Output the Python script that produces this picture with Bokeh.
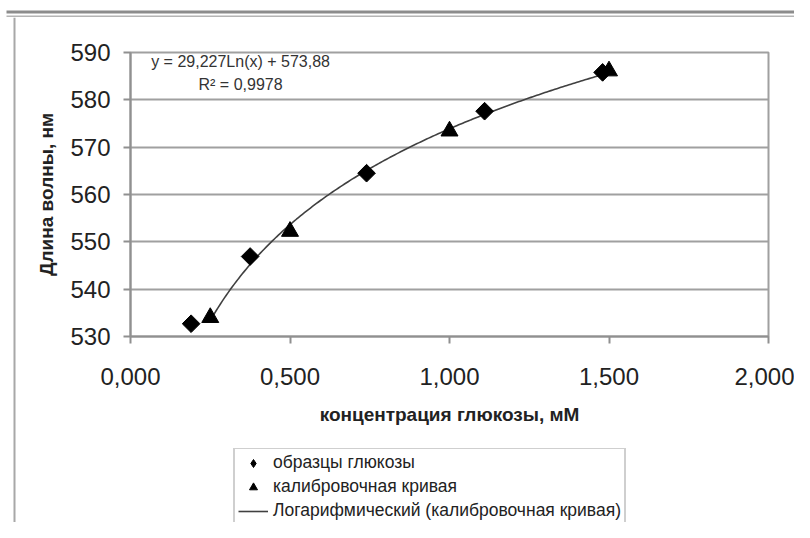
import numpy as np
from bokeh.plotting import figure
from bokeh.layouts import column, row
from bokeh.models import Legend, LegendItem, Label, FixedTicker, BoxAnnotation
from bokeh.embed import file_html
from bokeh.resources import INLINE

# ---- data ----
sample_x = [0.19, 0.375, 0.74, 1.11, 1.48]
sample_y = [532.7, 546.9, 564.5, 577.6, 585.8]

calib_x = [0.25, 0.5, 1.0, 1.5]
calib_y = [534.0, 552.2, 573.4, 586.1]

# logarithmic trend line shown in the chart: y = 29,227 Ln(x) + 573,88
trend_a = 29.227
trend_b = 573.88
trend_x_min = 0.25
trend_x_max = 1.5

x_ticks = [0.0, 0.5, 1.0, 1.5, 2.0]
x_tick_labels = ["0,000", "0,500", "1,000", "1,500", "2,000"]
y_ticks = [530, 540, 550, 560, 570, 580, 590]

series_names = ["образцы глюкозы", "калибровочная кривая",
                "Логарифмический (калибровочная кривая)"]
eq_text = "y = 29,227Ln(x) + 573,88"
r2_text = "R\u00b2 = 0,9978"

FONT = "Liberation Sans"
W, H = 794, 522
TOP_H = 17      # strip with the window rules at the top
LEFT_W = 16     # strip with the chart-area border on the left
MAIN_H = 431
LEG_H = H - TOP_H - MAIN_H
INNER_W = W - LEFT_W
FRAME_L = 130   # left edge of plot area (page px)


def bare(fig):
    fig.axis.visible = False
    fig.grid.visible = False
    fig.outline_line_color = None
    fig.background_fill_color = "white"
    fig.border_fill_color = "white"
    return fig


# ---- top strip (double grey rule) ----
top = bare(figure(width=W, height=TOP_H, output_backend="svg", toolbar_location=None,
                  x_range=(0, W), y_range=(TOP_H, 0), min_border=0))
top.add_layout(BoxAnnotation(left=6, right=W, top=10, bottom=13,
                             fill_color="#8c8c8c", fill_alpha=1, line_alpha=0))
top.add_layout(BoxAnnotation(left=6, right=W, top=15, bottom=17,
                             fill_color="#b4b4b4", fill_alpha=1, line_alpha=0))

# ---- left strip (border of chart area) ----
left = bare(figure(width=LEFT_W, height=H - TOP_H, output_backend="svg",
                   toolbar_location=None, x_range=(0, LEFT_W), y_range=(H - TOP_H, 0),
                   min_border=0))
left.add_layout(BoxAnnotation(left=13, right=15, top=0, bottom=H - TOP_H,
                              fill_color="#a8a8a8", fill_alpha=1, line_alpha=0))

# ---- main chart ----
p = figure(width=INNER_W, height=MAIN_H, output_backend="svg", toolbar_location=None,
           x_range=(0, 2), y_range=(530, 590),
           min_border_left=FRAME_L - LEFT_W, min_border_right=W - 768,
           min_border_top=52 - TOP_H, min_border_bottom=TOP_H + MAIN_H - 336)
p.background_fill_color = "white"
p.border_fill_color = "white"
p.outline_line_color = "#a0a0a0"
p.outline_line_width = 2

p.xgrid.visible = False
p.ygrid.grid_line_color = "#a0a0a0"
p.ygrid.grid_line_width = 2
p.ygrid.ticker = FixedTicker(ticks=y_ticks)

for ax in (p.xaxis[0], p.yaxis[0]):
    ax.axis_line_color = "#909090"
    ax.axis_line_width = 2
    ax.major_tick_line_color = "#909090"
    ax.major_tick_line_width = 2
    ax.major_tick_out = 7
    ax.major_tick_in = 0
    ax.minor_tick_out = 0
    ax.minor_tick_in = 0
    ax.major_label_text_font = FONT
    ax.major_label_text_font_size = "24px"
    ax.major_label_text_color = "#222222"
    ax.axis_label_text_font = FONT
    ax.axis_label_text_font_size = "19px"
    ax.axis_label_text_font_style = "bold"
    ax.axis_label_text_color = "#222222"

p.xaxis.ticker = FixedTicker(ticks=x_ticks)
p.xaxis.major_label_overrides = {t: s for t, s in zip(x_ticks, x_tick_labels)}
p.xaxis.major_label_standoff = 24
p.xaxis.axis_label = "концентрация глюкозы, мМ"
p.xaxis.axis_label_standoff = 16

p.yaxis.ticker = FixedTicker(ticks=y_ticks)
p.yaxis.major_label_standoff = 13
p.yaxis.axis_label = "Длина волны, нм"
p.yaxis.axis_label_standoff = 10

tx = np.linspace(trend_x_min, trend_x_max, 200)
ty = trend_a * np.log(tx) + trend_b
p.line(tx, ty, line_color="#404040", line_width=1.6)
p.scatter(sample_x, sample_y, marker="square", size=12.5, angle=np.pi / 4,
          fill_color="black", line_color="black")
p.scatter(calib_x, calib_y, marker="triangle", size=17,
          fill_color="black", line_color="black")

p.add_layout(Label(x=0.345, y=588.1, text=eq_text, text_align="center",
                   text_baseline="middle", text_font=FONT, text_font_size="16px",
                   text_color="#333333"))
p.add_layout(Label(x=0.345, y=583.3, text=r2_text, text_align="center",
                   text_baseline="middle", text_font=FONT, text_font_size="16px",
                   text_color="#333333"))

# ---- legend strip: same series, legend-sized markers; the data lie outside
# this strip's ranges, so only the legend glyphs are visible ----
lg = bare(figure(width=INNER_W, height=LEG_H, output_backend="svg", toolbar_location=None,
                 x_range=(0, 1), y_range=(0, 1), min_border=0))
g_samp = lg.scatter(sample_x, sample_y, marker="diamond", size=12,
                    fill_color="black", line_color="black")
g_cal = lg.scatter(calib_x, calib_y, marker="triangle", size=12,
                   fill_color="black", line_color="black")
g_line = lg.line(tx, ty, line_color="#404040", line_width=1.6)

legend = Legend(items=[
    LegendItem(label=series_names[0], renderers=[g_samp]),
    LegendItem(label=series_names[1], renderers=[g_cal]),
    LegendItem(label=series_names[2], renderers=[g_line]),
], location=(233 - FRAME_L, LEG_H - 78))
legend.label_text_font = FONT
legend.label_text_font_size = "17.5px"
legend.label_text_color = "#222222"
legend.border_line_color = "#a0a0a0"
legend.border_line_width = 2
legend.background_fill_color = "white"
legend.background_fill_alpha = 1
legend.glyph_width = 30
legend.glyph_height = 20
legend.label_height = 20
legend.spacing = 3
legend.padding = 3
legend.margin = 0
legend.label_standoff = 5
lg.add_layout(legend, "center")

layout = column(top, row(left, column(p, lg, spacing=0), spacing=0), spacing=0)

open("out.html", "w").write(file_html(layout, INLINE))
